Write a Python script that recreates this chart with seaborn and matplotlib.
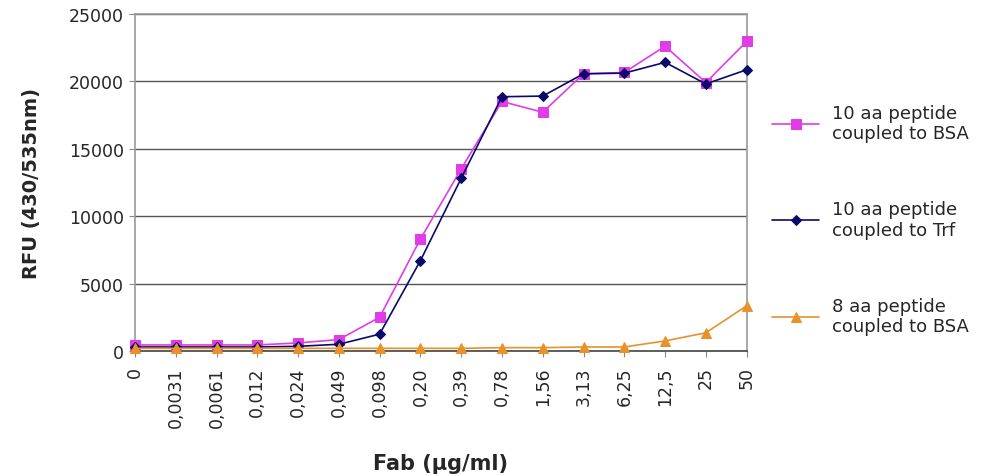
import numpy as np
import pandas as pd
import matplotlib
matplotlib.use("Agg")
import matplotlib.pyplot as plt
import seaborn as sns

# Fab concentrations (category labels on x axis)
conc_labels = ["0", "0,0031", "0,0061", "0,012", "0,024", "0,049", "0,098", "0,20",
               "0,39", "0,78", "1,56", "3,13", "6,25", "12,5", "25", "50"]

bsa_10aa = [450, 450, 450, 450, 600, 850, 2500, 8300, 13500, 18500, 17700,
            20550, 20650, 22600, 19900, 22950]
trf_10aa = [300, 300, 300, 300, 350, 500, 1250, 6700, 12800, 18850, 18900,
            20550, 20600, 21400, 19800, 20850]
bsa_8aa = [200, 200, 200, 200, 200, 200, 200, 200, 200, 250, 250,
           300, 300, 750, 1350, 3350]

series = [
    ("10 aa peptide\ncoupled to BSA", bsa_10aa, "#e03ce8", "s", 6.5),
    ("10 aa peptide\ncoupled to Trf", trf_10aa, "#0a0a6a", "D", 5),
    ("8 aa peptide\ncoupled to BSA", bsa_8aa, "#e8922a", "^", 7),
]

sns.set_style("white")
plt.rcParams['font.family'] = ['DejaVu Sans']

fig = plt.figure(figsize=(9.85, 4.77), dpi=100)
ax = fig.add_axes([0.137, 0.262, 0.621, 0.707])

pos = np.arange(len(conc_labels))
for name, vals, col, mk, ms in series:
    df = pd.DataFrame({"x": pos, "y": vals})
    sns.lineplot(data=df, x="x", y="y", ax=ax, color=col, marker=mk,
                 markersize=ms, markeredgecolor=col, linewidth=1.2,
                 label=name, clip_on=False, zorder=3)

ax.set_xlim(0, len(conc_labels) - 1)
ax.set_ylim(0, 25000)
ax.set_yticks(np.arange(0, 25001, 5000))
ax.set_xticks(pos)
ax.set_xticklabels(conc_labels, rotation=90, va="top", fontsize=12.5)
ax.tick_params(axis="y", labelsize=12.5, pad=4)
ax.tick_params(axis="x", pad=7)
ax.tick_params(axis="both", direction="out", length=4, width=0.8, color="#888888",
               bottom=True, left=True)
ax.yaxis.grid(True, color="#555555", linewidth=1)
ax.set_axisbelow(True)
for s in ax.spines.values():
    s.set_color("#999999")
    s.set_linewidth(1.2)
ax.spines["bottom"].set_color("#444444")

ax.set_xlabel("Fab (µg/ml)", fontsize=15, fontweight="bold", labelpad=19)
ax.set_ylabel("RFU (430/535nm)", fontsize=14, fontweight="bold", labelpad=20)

ax.legend(loc="center left", bbox_to_anchor=(1.015, 0.39), frameon=False,
          fontsize=13, labelspacing=3.2, handlelength=2.6, handletextpad=0.7)

fig.savefig("out.png", dpi=100)
